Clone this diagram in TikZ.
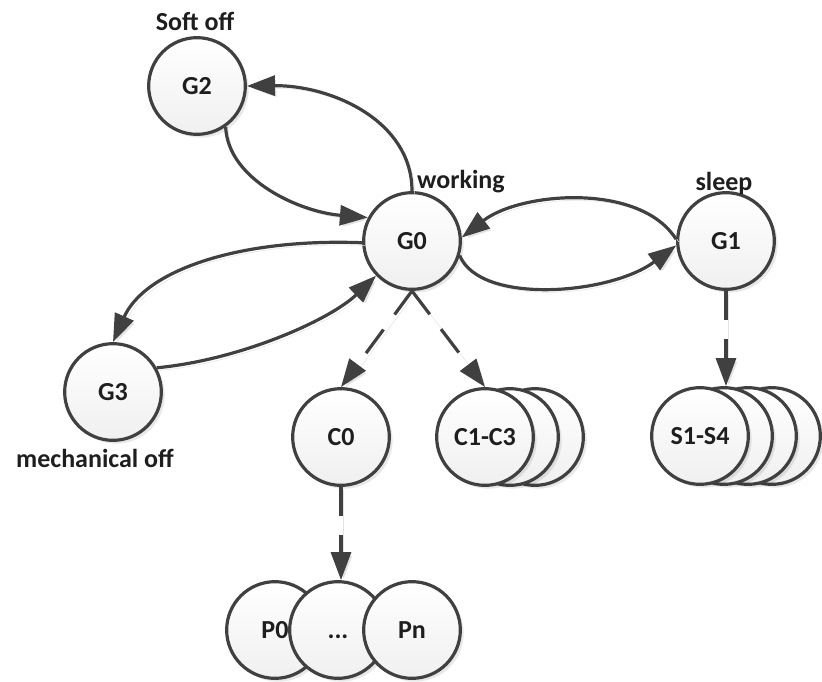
\documentclass[tikz,border=0pt]{standalone}
\usepackage{fontspec}
\setmainfont{Carlito}
\usetikzlibrary{arrows.meta,shadows}
\definecolor{edgegray}{HTML}{404040}
\definecolor{inkgray}{HTML}{1E1E1E}
\newcommand\statefont{\fontsize{19.5pt}{23pt}\selectfont\bfseries}
\begin{document}
\begin{tikzpicture}[x=0.75pt,y=-0.75pt,
  state/.style={circle, draw=edgegray, line width=2.4pt, minimum size=72.5pt,
    inner sep=0pt, top color=white, bottom color=black!6,
    font=\statefont, text=inkgray, text height=12.6pt, text depth=0pt,
    drop shadow={shadow xshift=2.5pt, shadow yshift=-2.5pt, fill=black, opacity=0.09}},
  tag/.style={anchor=base, font=\statefont, text=inkgray, inner sep=0pt},
  link/.style={draw=edgegray, line width=2.4pt,
    -{Triangle[length=21pt,width=15pt]},
    preaction={draw=black!11, transform canvas={xshift=2pt,yshift=-2pt}}},
  dashlink/.style={link, dash pattern=on 22pt off 14pt}]
\useasboundingbox (0,0) rectangle (822,682);

% global states
\node[state] (G2) at (197,86) {G2};
\node[state] (G0) at (412,241) {G0};
\node[state] (G1) at (726,241) {G1};
\node[state] (G3) at (113,392) {G3};

% processor states
\node[state] (C0) at (341,437) {C0};
\node[state] (C13c) at (535,437) {};
\node[state] (C13b) at (510,437) {};
\node[state] (C13) at (485,437) {C1-C3};

% sleep states
\node[state] (S14d) at (772,436) {};
\node[state] (S14c) at (748,436) {};
\node[state] (S14b) at (724,436) {};
\node[state] (S14) at (700,436) {S1-S4};

% performance states
\node[state] (P0) at (275,630) {P0};
\node[state] (Pdots) at (338,630) {...};
\node[state] (Pn) at (412,630) {Pn};

% state names
\node[tag] (softoff) at (195,30) {Soft off};
\node[tag] (working) at (461,188) {working};
\node[tag] (sleep) at (724,190) {sleep};
\node[tag] (mechoff) at (95,467) {mechanical off};

% transitions between global states
\draw[link] (G0.north) .. controls (412,120) and (330,85) .. (G2.east);
\draw[link] (G2.-55) .. controls (228,180) and (300,212) .. (G0.152);
\draw[link] (G0.182) .. controls (240,238) and (145,270) .. (G3.north);
\draw[link] (G3.29) .. controls (240,360) and (330,320) .. (G0.224);
\draw[link] (G1.178) .. controls (640,182) and (520,192) .. (G0.4);
\draw[link] (G0.-17) .. controls (480,305) and (610,295) .. (G1.185);

% hierarchy
\draw[dashlink] (G0.south) -- (C0.north);
\draw[dashlink] (G0.south) -- (C13.north);
\draw[dashlink] (G1.south) -- (S14.north -| G1.south);
\draw[dashlink] (C0.south) -- (Pdots.north -| C0.south);
\end{tikzpicture}
\end{document}
